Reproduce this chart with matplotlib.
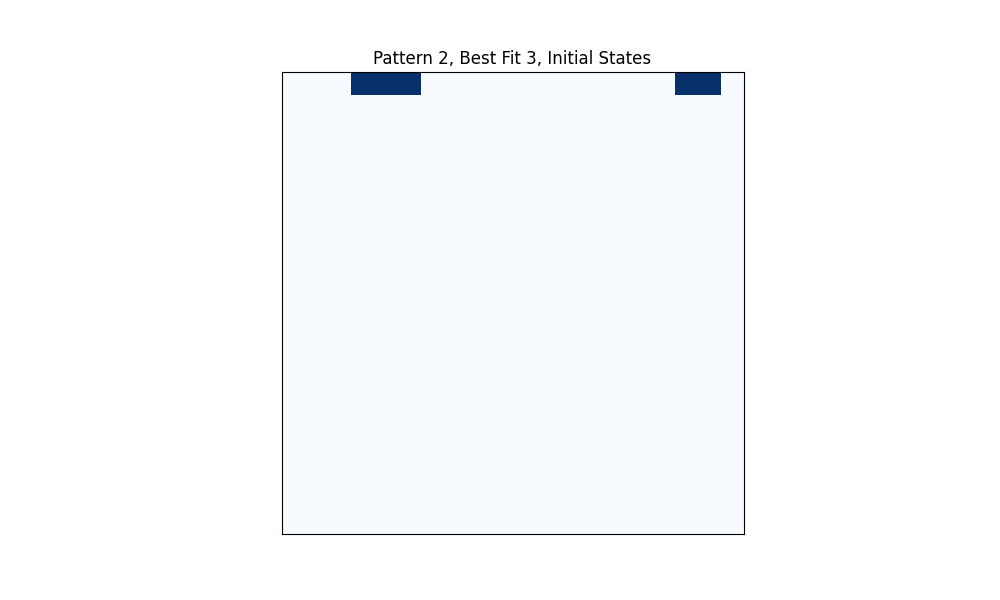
import numpy as np
import matplotlib
matplotlib.use("Agg")
import matplotlib.pyplot as plt

n_rows = 20
n_cols = 20
active_row = [0, 0, 0, 0, 0]
active_cols = [3, 4, 5, 17, 18]

grid = np.zeros((n_rows, n_cols))
for r, c in zip(active_row, active_cols):
    grid[r, c] = 1

fig, ax = plt.subplots(figsize=(10, 6), dpi=100)
ax.imshow(grid, cmap="Blues", vmin=0, vmax=1, interpolation="nearest")
ax.set_xticks([])
ax.set_yticks([])
ax.set_title("Pattern 2, Best Fit 3, Initial States")
fig.savefig("out.png", dpi=100)
